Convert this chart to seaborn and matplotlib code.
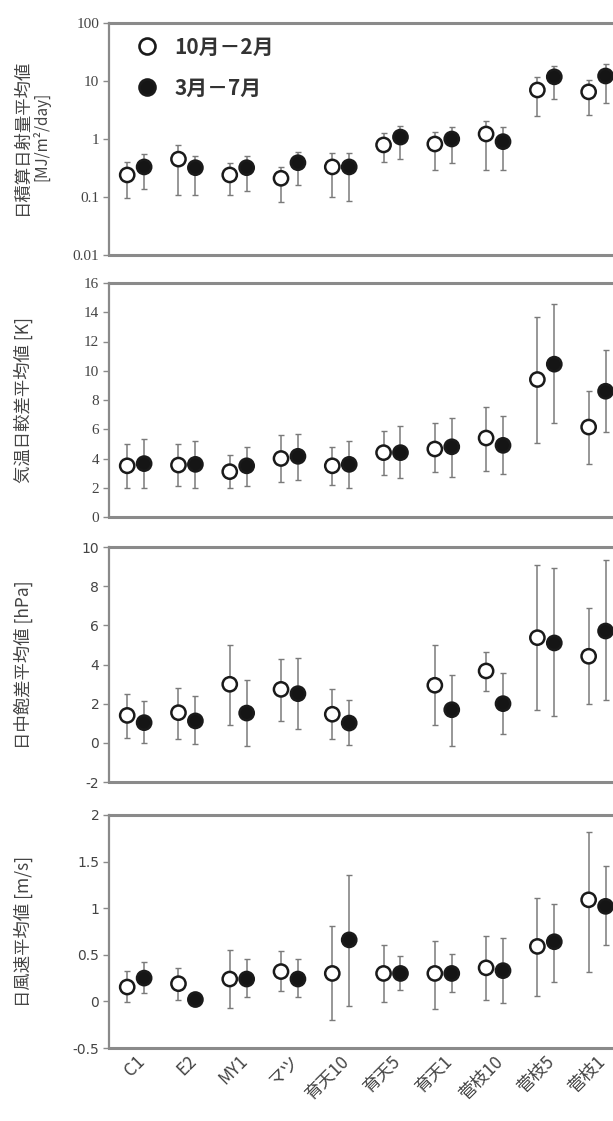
import numpy as np
import pandas as pd
import matplotlib
matplotlib.use("Agg")
import matplotlib.pyplot as plt
from matplotlib.lines import Line2D
import seaborn as sns

sns.set_theme(style="white")
plt.rcParams['font.family'] = ['Noto Sans CJK JP', 'DejaVu Sans']

nan = np.nan
cats = ['C1', 'E2', 'MY1', 'マツ', '育天10', '育天5', '育天1', '菅枝10', '菅枝5', '菅枝1']
series = ['10月－2月', '3月－7月']

# Panel 1: daily integrated solar radiation [MJ/m2/day]
sol_w_mean = [0.24, 0.45, 0.24, 0.21, 0.33, 0.79, 0.82, 1.22, 7.0, 6.5]
sol_w_hi = [0.40, 0.79, 0.39, 0.33, 0.57, 1.27, 1.32, 2.05, 11.7, 10.5]
sol_w_lo = [0.095, 0.11, 0.107, 0.083, 0.10, 0.40, 0.29, 0.29, 2.5, 2.6]
sol_s_mean = [0.33, 0.32, 0.32, 0.39, 0.33, 1.08, 1.0, 0.9, 11.8, 12.2]
sol_s_hi = [0.55, 0.51, 0.50, 0.60, 0.58, 1.67, 1.6, 1.6, 18.0, 20.0]
sol_s_lo = [0.14, 0.11, 0.126, 0.16, 0.085, 0.45, 0.39, 0.29, 4.9, 4.2]

# Panel 2: daily temperature range [K]
tmp_w_mean = [3.5, 3.55, 3.1, 4.0, 3.5, 4.4, 4.65, 5.4, 9.4, 6.15]
tmp_w_hi = [5.0, 5.0, 4.25, 5.6, 4.8, 5.85, 6.4, 7.55, 13.7, 8.6]
tmp_w_lo = [2.0, 2.15, 2.0, 2.4, 2.2, 2.85, 3.1, 3.15, 5.05, 3.65]
tmp_s_mean = [3.65, 3.6, 3.5, 4.15, 3.6, 4.4, 4.8, 4.9, 10.45, 8.6]
tmp_s_hi = [5.3, 5.2, 4.8, 5.7, 5.2, 6.25, 6.75, 6.9, 14.55, 11.4]
tmp_s_lo = [2.0, 2.0, 2.15, 2.55, 2.0, 2.65, 2.75, 2.95, 6.4, 5.8]

# Panel 3: daytime vapour pressure deficit [hPa]
vpd_w_mean = [1.4, 1.54, 2.99, 2.73, 1.46, nan, 2.94, 3.67, 5.37, 4.42]
vpd_w_hi = [2.5, 2.8, 5.01, 4.3, 2.77, nan, 4.98, 4.64, 9.1, 6.89]
vpd_w_lo = [0.26, 0.21, 0.89, 1.11, 0.18, nan, 0.89, 2.65, 1.66, 2.0]
vpd_s_mean = [1.03, 1.12, 1.52, 2.51, 1.01, nan, 1.69, 2.0, 5.1, 5.71]
vpd_s_hi = [2.12, 2.4, 3.19, 4.35, 2.17, nan, 3.45, 3.57, 8.95, 9.32]
vpd_s_lo = [0.0, -0.04, -0.18, 0.72, -0.13, nan, -0.18, 0.47, 1.37, 2.2]

# Panel 4: daily wind speed [m/s]
wnd_w_mean = [0.154, 0.19, 0.24, 0.32, 0.30, 0.30, 0.30, 0.36, 0.59, 1.09]
wnd_w_hi = [0.33, 0.36, 0.55, 0.54, 0.81, 0.61, 0.65, 0.70, 1.11, 1.82]
wnd_w_lo = [-0.007, 0.01, -0.07, 0.11, -0.20, -0.01, -0.08, 0.02, 0.06, 0.32]
wnd_s_mean = [0.25, 0.02, 0.24, 0.24, 0.66, 0.30, 0.30, 0.33, 0.64, 1.02]
wnd_s_hi = [0.42, 0.02, 0.45, 0.46, 1.36, 0.49, 0.51, 0.68, 1.05, 1.45]
wnd_s_lo = [0.09, 0.02, 0.05, 0.05, -0.05, 0.12, 0.10, -0.02, 0.21, 0.60]

ylabels = [('日積算日射量平均値', '[MJ/m²/day]'),
           ('気温日較差平均値 [K]',),
           ('日中飽差平均値 [hPa]',),
           ('日風速平均値 [m/s]',)]
yticks = [[0.01, 0.1, 1, 10, 100],
          [0, 2, 4, 6, 8, 10, 12, 14, 16],
          [-2, 0, 2, 4, 6, 8, 10],
          [-0.5, 0, 0.5, 1, 1.5, 2]]
yticklabels = [['0.01', '0.1', '1', '10', '100'],
               ['0', '2', '4', '6', '8', '10', '12', '14', '16'],
               ['-2', '0', '2', '4', '6', '8', '10'],
               ['-0.5', '0', '0.5', '1', '1.5', '2']]
ylims = [(0.01, 100), (0, 16), (-2, 10), (-0.5, 2)]

panels = [
    (sol_w_mean, sol_w_lo, sol_w_hi, sol_s_mean, sol_s_lo, sol_s_hi),
    (tmp_w_mean, tmp_w_lo, tmp_w_hi, tmp_s_mean, tmp_s_lo, tmp_s_hi),
    (vpd_w_mean, vpd_w_lo, vpd_w_hi, vpd_s_mean, vpd_s_lo, vpd_s_hi),
    (wnd_w_mean, wnd_w_lo, wnd_w_hi, wnd_s_mean, wnd_s_lo, wnd_s_hi),
]

W, H = 613, 1121
fig = plt.figure(figsize=(W / 100, H / 100), dpi=100)
left = 109 / W
boxes = [(23, 255), (283, 517), (547, 782), (815, 1048)]
spine_c = '#8a8a8a'
err_c = '#7a7a7a'
dodge = 0.165
tick_fonts = ['Liberation Serif', 'Liberation Serif', 'DejaVu Sans', 'DejaVu Sans']
tick_sizes = [11, 11, 10, 10]

xpos = np.arange(len(cats))
for k, ((top, bot), data) in enumerate(zip(boxes, panels)):
    ax = fig.add_axes([left, 1 - bot / H, 1 - left, (bot - top) / H])
    wm, wl, wh, sm, sl, sh = [np.array(a, dtype=float) for a in data]
    rows = []
    for name, m, lo, hi, off in [(series[0], wm, wl, wh, -dodge), (series[1], sm, sl, sh, dodge)]:
        for i, c in enumerate(cats):
            rows.append(dict(site=c, x=i + off, mean=m[i], lo=lo[i], hi=hi[i], season=name))
    df = pd.DataFrame(rows)
    for name in series:
        d = df[df.season == name]
        ax.errorbar(d.x, d['mean'], yerr=[d['mean'] - d.lo, d.hi - d['mean']],
                    fmt='none', ecolor=err_c, elinewidth=1.1, capsize=2.2,
                    capthick=1.0, zorder=2)
    sns.scatterplot(data=df, x='x', y='mean', hue='season', style='season',
                    hue_order=series, palette={series[0]: 'white', series[1]: '#151515'},
                    markers={series[0]: 'o', series[1]: 'o'},
                    s=105, edgecolor='#1a1a1a', linewidth=1.8, legend=False,
                    zorder=3, ax=ax)
    if k == 0:
        ax.set_yscale('log')
        ax.minorticks_off()
    ax.set_ylim(*ylims[k])
    ax.set_yticks(yticks[k])
    ax.set_yticklabels(yticklabels[k], fontfamily=tick_fonts[k], fontsize=tick_sizes[k],
                       color='#444444')
    ax.set_xlim(-0.52, 9.31)
    ax.set_xticks(xpos)
    if k == 3:
        ax.set_xticklabels(cats, rotation=45, ha='right', rotation_mode='anchor',
                           fontsize=12.5, color='#444444')
    else:
        ax.set_xticklabels([])
    ax.set_xlabel('')
    ax.set_ylabel('')
    ax.tick_params(axis='y', left=True, length=4, width=1, color=spine_c, pad=3)
    ax.tick_params(axis='x', bottom=False, length=0, pad=3)
    for s in ['top', 'bottom']:
        ax.spines[s].set_color(spine_c)
        ax.spines[s].set_linewidth(2.2)
    ax.spines['left'].set_color(spine_c)
    ax.spines['left'].set_linewidth(1.6)
    ax.spines['right'].set_visible(False)
    cy = 1 - (top + bot) / 2 / H
    lab = ylabels[k]
    if len(lab) == 2:
        fig.text(22 / W, cy + 0.002, lab[0], rotation=90, ha='center', va='center',
                 fontsize=12.5, color='#444444')
        fig.text(41 / W, cy + 0.002, lab[1], rotation=90, ha='center', va='center',
                 fontsize=11, color='#444444')
    else:
        fig.text(23 / W, cy, lab[0], rotation=90, ha='center', va='center',
                 fontsize=12.5, color='#444444')
    if k == 0:
        handles = [Line2D([], [], ls='none', marker='o', ms=11.5, mfc='white', mec='#1a1a1a', mew=1.9),
                   Line2D([], [], ls='none', marker='o', ms=11.5, mfc='#151515', mec='#1a1a1a', mew=1.9)]
        ax.legend(handles, series, loc='upper left', bbox_to_anchor=(0.03, 0.995),
                  frameon=False, handletextpad=0.8, labelspacing=0.95, borderaxespad=0.2,
                  prop={'family': ['Noto Sans CJK JP', 'DejaVu Sans'], 'weight': 'bold', 'size': 15},
                  labelcolor='#333333', handlelength=1.0)

fig.savefig('out.png', dpi=100)
